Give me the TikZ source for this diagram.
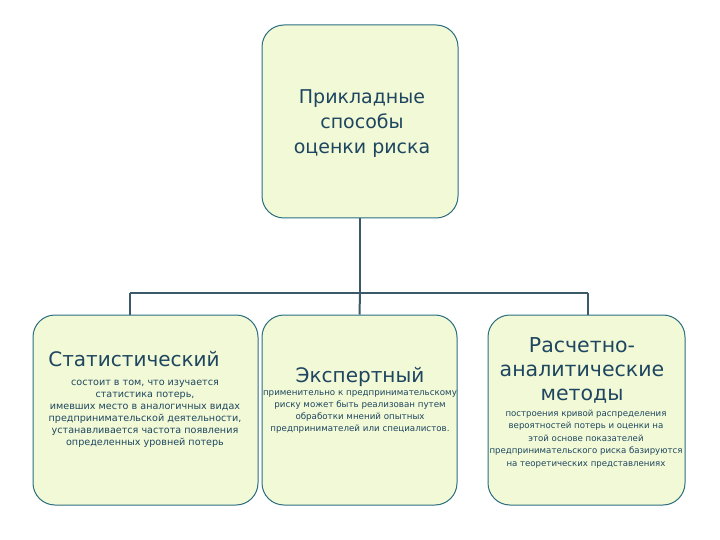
\documentclass[tikz,border=0pt]{standalone}
\usepackage{fontspec}
\setmainfont{DejaVu Sans}
\begin{document}
\begin{tikzpicture}[x=1pt,y=-1pt,
 box/.style={draw=boxline,line width=1pt,fill=boxfill,rounded corners=22pt,inner sep=0pt},
 link/.style={draw=linkc,line width=2pt},
 txt/.style={text=txtc,align=center}]
\definecolor{boxfill}{HTML}{F2F9D6}
\definecolor{boxline}{HTML}{2A6E80}
\definecolor{linkc}{HTML}{3A5A6A}
\definecolor{txtc}{HTML}{1E4660}
\useasboundingbox[fill=white] (0,0) rectangle (720,540);
\node[box,minimum width=196pt,minimum height=193pt] (top) at (360,121.5) {};
\node[txt,font=\fontsize{19}{25}\selectfont] at (362,124) {Прикладные\\способы\\оценки риска};
\node[box,minimum width=225pt,minimum height=190pt] (l) at (145.5,410) {};
\node[box,minimum width=195pt,minimum height=190pt] (m) at (359.5,410) {};
\node[box,minimum width=197pt,minimum height=190pt] (r) at (586.5,410) {};
\coordinate (j) at (360,293);
\coordinate (jl) at (130,293);
\coordinate (jr) at (588,293);
\draw[link] (top.south) -- (j);
\draw[link] (jl) -- (jr);
\draw[link] (jl) -- (jl |- l.north);
\draw[link] (j) -- (m.north);
\draw[link] (jr) -- (jr |- r.north);
\node[txt,font=\fontsize{20}{22}\selectfont] at (134,359) {Статистический};
\node[txt,font=\fontsize{9.6}{12}\selectfont] at (145,414) {состоит в том, что изучается\\статистика потерь,\\имевших место в аналогичных видах\\предпринимательской деятельности,\\устанавливается частота появления\\определенных уровней потерь};
\node[txt,font=\fontsize{20}{22}\selectfont] at (360,377) {Экспертный};
\node[txt,font=\fontsize{8.7}{12}\selectfont] at (360,412) {применительно к предпринимательскому\\риску может быть реализован путем\\обработки мнений опытных\\предпринимателей или специалистов.};
\node[txt,font=\fontsize{20.5}{24}\selectfont] at (582,370) {Расчетно-\\аналитические\\методы};
\node[txt,font=\fontsize{8.6}{12.5}\selectfont] at (586,439) {построения кривой распределения\\вероятностей потерь и оценки на\\этой основе показателей\\предпринимательского риска базируются\\на теоретических представлениях};
\end{tikzpicture}
\end{document}
